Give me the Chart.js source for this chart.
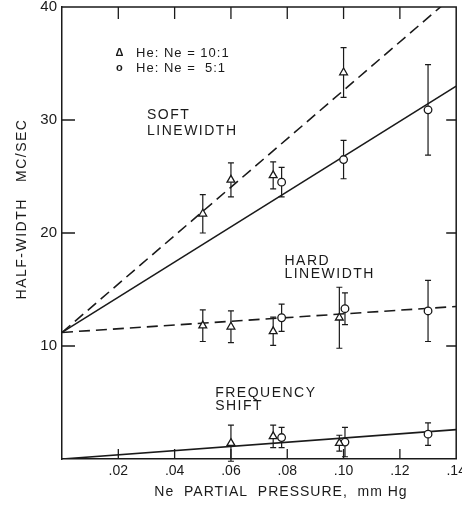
<!DOCTYPE html>
<html>
<head>
<meta charset="utf-8">
<script src="https://cdn.jsdelivr.net/npm/chart.js@4.4.1/dist/chart.umd.min.js"></script>
<style>
html,body{margin:0;padding:0;background:#fff;overflow:hidden;}
#wrap{width:462px;height:506px;}
</style>
</head>
<body>
<div id="wrap"><canvas id="c" width="462" height="506"></canvas></div>
<script>
// ---- data ----
// Soft linewidth
const softX10 = [0.050, 0.060, 0.075, 0.100];
const soft10 = [21.7, 24.7, 25.1, 34.2];
const soft10Err = [1.7, 1.5, 1.2, 2.2];
const softX5 = [0.078, 0.100, 0.130];
const soft5 = [24.5, 26.5, 30.9];
const soft5Err = [1.3, 1.7, 4.0];
// Hard linewidth
const hardX10 = [0.050, 0.060, 0.075, 0.0985];
const hard10 = [11.8, 11.7, 11.3, 12.5];
const hard10Err = [1.4, 1.4, 1.25, 2.7];
const hardX5 = [0.078, 0.1005, 0.130];
const hard5 = [12.5, 13.3, 13.1];
const hard5Err = [1.2, 1.4, 2.7];
// Frequency shift
const freqX10 = [0.060, 0.075, 0.0985];
const freq10 = [1.4, 2.0, 1.4];
const freq10Err = [1.6, 1.0, 0.7];
const freqX5 = [0.078, 0.1005, 0.130];
const freq5 = [1.9, 1.5, 2.2];
const freq5Err = [0.9, 1.3, 1.0];
// Fitted lines (values at the fit-line x endpoints)
const fitX = [0, 0.14];
const softFit10 = [11.2, 41.2];
const softFit5 = [11.2, 33.0];
const hardFit = [11.2, 13.5];
const freqFit = [0.0, 2.6];
// Axes
const xMin = 0, xMax = 0.14, xStep = 0.02;
const yMin = 0, yMax = 40, yStep = 10;
const xTitle = "Ne  PARTIAL  PRESSURE,  mm Hg";
const yTitle = "HALF-WIDTH   MC/SEC";
const legendItems = [["\u0394", "He: Ne = 10:1"], ["o", "He: Ne =  5:1"]];
// Text annotations anchored in data units
const notes = [
  ["SOFT", 0.0302, 30.1], ["LINEWIDTH", 0.0302, 28.7],
  ["HARD", 0.079, 17.2], ["LINEWIDTH", 0.079, 16.0],
  ["FREQUENCY", 0.0544, 5.5], ["SHIFT", 0.0544, 4.35]
];
const legendAnchor = {symX: 0.0204, textX: 0.0263, y: [35.9, 34.6]};

const INK = '#1a1a1a';
const FONT = '"Liberation Sans", Arial, sans-serif';

function pts(xs, ys){ return xs.map((x,i)=>({x:x, y:ys[i]})); }

function fitDs(ys, dash){
  return {type:'line', data: pts(fitX, ys), borderColor: INK, borderWidth: 1.6,
    borderDash: dash, pointRadius: 0, fill:false, tension:0, order: 3};
}
function markDs(xs, ys, errs, style){
  return {type:'scatter', data: pts(xs, ys), errs: errs, showLine:false,
    pointStyle: style, pointRadius: style==='triangle'?4.5:3.8,
    backgroundColor:'#fff', borderColor: INK, borderWidth: 1.3, order: 1};
}

const datasets = [
  fitDs(softFit10, [11,6]),
  fitDs(softFit5, []),
  fitDs(hardFit, [11,6]),
  fitDs(freqFit, []),
  markDs(softX10, soft10, soft10Err, 'triangle'),
  markDs(softX5, soft5, soft5Err, 'circle'),
  markDs(hardX10, hard10, hard10Err, 'triangle'),
  markDs(hardX5, hard5, hard5Err, 'circle'),
  markDs(freqX10, freq10, freq10Err, 'triangle'),
  markDs(freqX5, freq5, freq5Err, 'circle'),
];

const decor = {
  id:'decor',
  beforeDatasetsDraw(chart){
    const ctx = chart.ctx, xs = chart.scales.x, ys = chart.scales.y;
    ctx.save();
    ctx.strokeStyle = INK; ctx.lineWidth = 1.2;
    chart.data.datasets.forEach(ds=>{
      if(!ds.errs) return;
      ds.data.forEach((p,i)=>{
        const px = xs.getPixelForValue(p.x);
        const y1 = ys.getPixelForValue(p.y + ds.errs[i]);
        const y2 = ys.getPixelForValue(p.y - ds.errs[i]);
        ctx.beginPath();
        ctx.moveTo(px, y1); ctx.lineTo(px, y2);
        ctx.moveTo(px-3, y1); ctx.lineTo(px+3, y1);
        ctx.moveTo(px-3, y2); ctx.lineTo(px+3, y2);
        ctx.stroke();
      });
    });
    ctx.restore();
  },
  afterDraw(chart){
    const ctx = chart.ctx, a = chart.chartArea, xs = chart.scales.x, ys = chart.scales.y;
    ctx.save();
    // frame (top and right) and inward ticks
    ctx.strokeStyle = INK; ctx.lineWidth = 1.5;
    ctx.beginPath();
    ctx.moveTo(a.left, a.top); ctx.lineTo(a.right, a.top); ctx.lineTo(a.right, a.bottom);
    ctx.stroke();
    ctx.lineWidth = 1.3;
    ctx.beginPath();
    xs.ticks.forEach(t=>{
      if(t.value <= xMin + 1e-9 || t.value >= xMax - 1e-9) return;
      const px = xs.getPixelForValue(t.value);
      ctx.moveTo(px, a.bottom); ctx.lineTo(px, a.bottom-10);
      ctx.moveTo(px, a.top); ctx.lineTo(px, a.top+12);
    });
    ys.ticks.forEach(t=>{
      if(t.value <= yMin || t.value >= yMax) return;
      const py = ys.getPixelForValue(t.value);
      ctx.moveTo(a.left, py); ctx.lineTo(a.left+13, py);
      ctx.moveTo(a.right, py); ctx.lineTo(a.right-10, py);
    });
    ctx.stroke();

    // annotations
    ctx.fillStyle = INK;
    ctx.textBaseline = 'alphabetic'; ctx.textAlign = 'left';
    ctx.font = '14px ' + FONT;
    ctx.letterSpacing = '1.5px';
    notes.forEach(n=>{
      ctx.fillText(n[0], xs.getPixelForValue(n[1]), ys.getPixelForValue(n[2]));
    });
    // legend
    ctx.textBaseline = 'middle';
    legendItems.forEach((it,i)=>{
      const py = ys.getPixelForValue(legendAnchor.y[i]);
      ctx.textAlign = 'center';
      ctx.font = 'bold 11px ' + FONT;
      ctx.letterSpacing = '0px';
      ctx.fillText(it[0], xs.getPixelForValue(legendAnchor.symX), py);
      ctx.textAlign = 'left';
      ctx.font = '13px ' + FONT;
      ctx.letterSpacing = '1px';
      ctx.fillText(it[1], xs.getPixelForValue(legendAnchor.textX), py);
    });
    // axis titles
    ctx.font = '14px ' + FONT;
    ctx.letterSpacing = '1px';
    ctx.textAlign = 'center'; ctx.textBaseline = 'middle';
    ctx.fillText(xTitle, 281, 492);
    ctx.letterSpacing = '1.5px';
    ctx.translate(22, 209);
    ctx.rotate(-Math.PI/2);
    ctx.fillText(yTitle, 0, 0);
    ctx.restore();
  }
};

new Chart(document.getElementById('c'), {
  type: 'scatter',
  data: { datasets: datasets },
  options: {
    responsive: false,
    animation: false,
    layout: { padding: { left: 0, top: 7, right: 1, bottom: 0 } },
    plugins: { legend: {display:false}, tooltip: {enabled:false} },
    scales: {
      x: {
        type: 'linear', min: xMin, max: xMax,
        grid: { display: false, drawTicks: false },
        border: { display: true, color: INK, width: 1.5 },
        ticks: { stepSize: xStep, color: INK, padding: 4, maxRotation: 0, autoSkip: false,
          font: { family: FONT, size: 14 },
          callback: v => (Math.abs(v) < 1e-9 ? '' : v.toFixed(2).replace(/^0/, '')) },
        afterFit: s => { s.height = 47; s.paddingLeft = 0; s.paddingRight = 0; }
      },
      y: {
        type: 'linear', min: yMin, max: yMax,
        grid: { display: false, drawTicks: false },
        border: { display: true, color: INK, width: 1.5 },
        ticks: { stepSize: yStep, color: INK, padding: 5, autoSkip: false,
          font: { family: FONT, size: 15 },
          callback: v => (v === 0 ? '' : String(v)) },
        afterFit: s => { s.width = 62; s.paddingTop = 0; s.paddingBottom = 0; }
      }
    }
  },
  plugins: [decor]
});
</script>
</body>
</html>
